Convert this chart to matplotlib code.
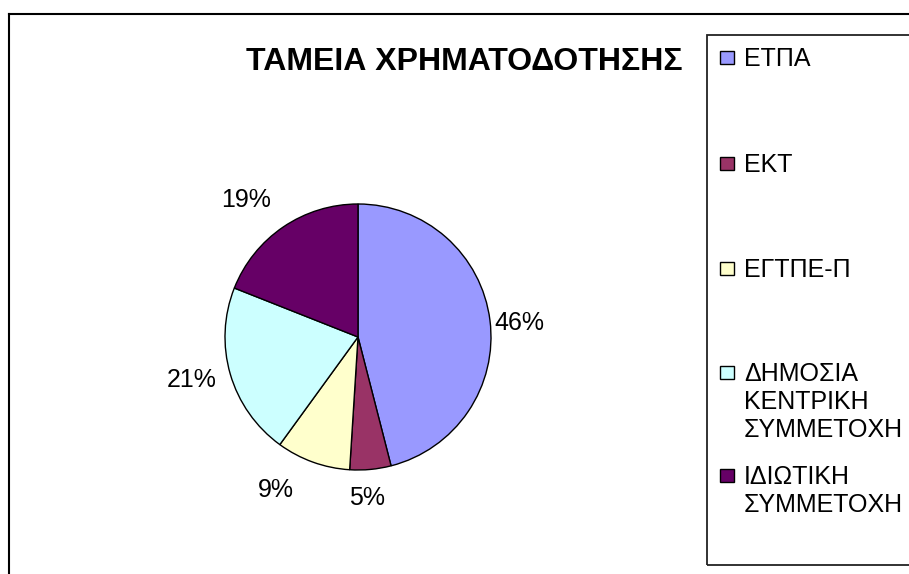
import matplotlib
matplotlib.use('Agg')
import matplotlib.pyplot as plt
from matplotlib.patches import Rectangle
from matplotlib.lines import Line2D

plt.rcParams['font.family'] = ['Liberation Sans', 'DejaVu Sans']

# data
funds = ['ΕΤΠΑ', 'ΕΚΤ', 'ΕΓΤΠΕ-Π', 'ΔΗΜΟΣΙΑ\nΚΕΝΤΡΙΚΗ\nΣΥΜΜΕΤΟΧΗ', 'ΙΔΙΩΤΙΚΗ\nΣΥΜΜΕΤΟΧΗ']
shares = [46, 5, 9, 21, 19]
colors = ['#9999FF', '#993366', '#FFFFCC', '#CCFFFF', '#660066']
title = 'ΤΑΜΕΙΑ ΧΡΗΜΑΤΟΔΟΤΗΣΗΣ'

# layout (pixels)
W, H = 909, 574
legend_rows = [57, 163, 268, 372, 475]  # y of first text line per entry
# small nudges of the percent labels, (dx, dy) in pixels, y downwards
label_nudge = [(-4, 7), (-7, -5), (-26, -3), (-7, -3), (-18, 1)]


def fx(x):
    return x / W


def fy(y):
    return 1 - y / H


fig = plt.figure(figsize=(W / 100, H / 100), dpi=100)
fig.patch.set_facecolor('white')

# pie
cx, cy, r = 358, 337, 133
ax = fig.add_axes([fx(cx - r), fy(cy + r), 2 * r / W, 2 * r / H])
wedges, texts, autotexts = ax.pie(
    shares, colors=colors, startangle=90, counterclock=False,
    autopct=lambda p: f'{p:.0f}%', pctdistance=1.25,
    wedgeprops=dict(edgecolor='black', linewidth=1))
for t, (dx, dy) in zip(autotexts, label_nudge):
    x, y = t.get_position()
    t.set_position((x + dx / r, y - dy / r))
    t.set_fontsize(18)
    t.set_clip_on(False)
ax.set_xlim(-1, 1)
ax.set_ylim(-1, 1)
ax.axis('off')

# title
fig.text(fx(464), fy(62), title, fontsize=23, fontweight='bold',
         ha='center', va='center')

# chart frame (top and left edges visible)
fig.add_artist(Line2D([fx(9), fx(909)], [fy(14), fy(14)], color='black', lw=1.5))
fig.add_artist(Line2D([fx(9), fx(9)], [fy(14), fy(574)], color='black', lw=1.5))

# legend box
fig.add_artist(Rectangle((fx(707), fy(565)), fx(940) - fx(707), fy(35) - fy(565),
                         fill=False, edgecolor='#222222', lw=1.3,
                         transform=fig.transFigure))
for name, col, y in zip(funds, colors, legend_rows):
    fig.add_artist(Rectangle((fx(720), fy(y + 7)), 14 / W, 13 / H,
                             facecolor=col, edgecolor='black', lw=1,
                             transform=fig.transFigure))
    fig.text(fx(744), fy(y - 10), name, fontsize=18, ha='left', va='top',
             linespacing=1.2)

fig.savefig('out.png', dpi=100)
